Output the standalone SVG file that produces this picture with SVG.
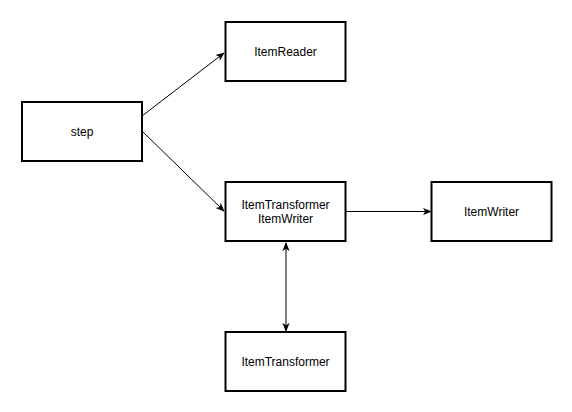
<svg xmlns="http://www.w3.org/2000/svg" width="572" height="412" viewBox="0 0 572 412">
<defs>
<style>
.box{fill:#fff;stroke:#000;stroke-width:2}
.lbl{font-family:"Liberation Sans",Arial,sans-serif;font-size:12px;fill:#000;text-anchor:middle}
.edge{stroke:#000;stroke-width:1;fill:none}
</style>
<marker id="ah" viewBox="0 0 10 10" refX="9" refY="5" markerWidth="9" markerHeight="9" orient="auto-start-reverse" markerUnits="userSpaceOnUse">
<path d="M0,1 L10,5 L0,9 L2.5,5 Z" fill="#000"/>
</marker>
</defs>
<rect width="572" height="412" fill="#fff"/>
<g id="connectors">
<line class="edge" x1="142" y1="116" x2="224" y2="53" marker-end="url(#ah)"/>
<line class="edge" x1="142" y1="131" x2="224" y2="211" marker-end="url(#ah)"/>
<line class="edge" x1="346" y1="211.5" x2="431" y2="211.5" marker-end="url(#ah)"/>
<line class="edge" x1="286" y1="243" x2="286" y2="331" marker-start="url(#ah)" marker-end="url(#ah)"/>
</g>
<g id="step">
<rect class="box" x="22" y="102" width="120" height="59"/>
<text class="lbl" x="82" y="136">step</text>
</g>
<g id="itemReader">
<rect class="box" x="225.5" y="22" width="120" height="59"/>
<text class="lbl" x="285.5" y="56">ItemReader</text>
</g>
<g id="itemTransformerWriter">
<rect class="box" x="225.5" y="182" width="120" height="59"/>
<text class="lbl" x="285.5" y="209">ItemTransformer</text>
<text class="lbl" x="285.5" y="223">ItemWriter</text>
</g>
<g id="itemWriter">
<rect class="box" x="431.5" y="182" width="120" height="59"/>
<text class="lbl" x="491.5" y="216">ItemWriter</text>
</g>
<g id="itemTransformer">
<rect class="box" x="225.5" y="332" width="120" height="59"/>
<text class="lbl" x="285.5" y="366">ItemTransformer</text>
</g>
</svg>
